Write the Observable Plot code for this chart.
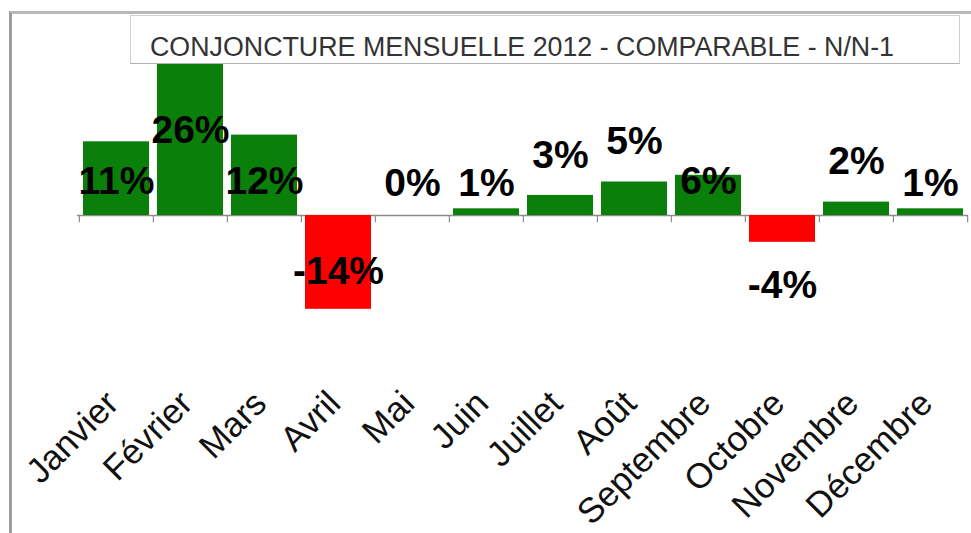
<!DOCTYPE html>
<html>
<head>
<meta charset="utf-8">
<script src="https://cdn.jsdelivr.net/npm/d3@7"></script>
<script src="https://cdn.jsdelivr.net/npm/@observablehq/plot@0.6"></script>
<style>
  html, body { margin: 0; padding: 0; background: #fff; }
  #wrap { position: relative; width: 971px; height: 533px; overflow: hidden; font-family: "Liberation Sans", Arial, sans-serif; }
  #frame { position: absolute; left: 9px; top: 11px; width: 970px; height: 530px;
           border-left: 3px solid #9c9c9c; border-top: 3px solid #b8b8b8; }
  #chart { position: absolute; left: 0; top: 0; }
  #title { position: absolute; left: 130px; top: 15px; width: 830px; height: 49px; box-sizing: border-box;
           background: #fff; border: 1px solid #d0d0d0; border-bottom: 1px solid #b0b0b0;
           color: #333; font-size: 26.8px; line-height: 26px; padding: 18px 0 0 19px; white-space: nowrap; }
</style>
</head>
<body>
<div id="wrap">
  <div id="frame"></div>
  <div id="chart"></div>
  <div id="title">CONJONCTURE MENSUELLE 2012 - COMPARABLE - N/N-1</div>
</div>
<script>
const months = ["Janvier","Février","Mars","Avril","Mai","Juin","Juillet","Août","Septembre","Octobre","Novembre","Décembre"];
const values = [11, 26, 12, -14, 0, 1, 3, 5, 6, -4, 2, 1];

const data = months.map((m, i) => ({month: m, value: values[i]}));

// label placement rule (mimics the manually placed Excel labels)
function labelY(v) {
  if (v >= 20) return v / 2 - 0.3;
  if (v >= 6) return 5;
  if (v >= 2) return v + 6;
  if (v >= 0) return 4.8;
  return v <= -10 ? v * 0.6 : v - 6.4;
}

const W = 971, H = 533, ML = 77, MR = 3;
const step = (W - ML - MR) / months.length;

const chart = Plot.plot({
  width: W,
  height: H,
  marginLeft: ML,
  marginRight: MR,
  marginTop: 14,
  marginBottom: 184,
  style: {fontFamily: "'Liberation Sans', Arial, sans-serif", background: "transparent", overflow: "visible"},
  x: {domain: months, paddingInner: 0.11, paddingOuter: 0.055, axis: null},
  y: {domain: [-20, 30], axis: null},
  marks: [
    Plot.ruleY([0], {stroke: "#8c8c8c", strokeWidth: 1.5}),
    Plot.ruleX(months, {x: d => d, dx: -step / 2, y1: 0, y2: -1.1, stroke: "#8c8c8c", strokeWidth: 1.2}),
    Plot.ruleX([months[months.length - 1]], {x: d => d, dx: step / 2, y1: 0, y2: -1.1, stroke: "#8c8c8c", strokeWidth: 1.2}),
    Plot.barY(data, {x: "month", y: "value", fill: d => d.value < 0 ? "#ff0000" : "#0a7f0a"}),
    Plot.text(data, {x: "month", y: d => labelY(d.value), text: d => `${d.value}%`,
      fontSize: 39, fontWeight: "bold", fill: "#000", lineAnchor: "middle"}),
    Plot.text(months, {x: d => d, text: d => d, frameAnchor: "bottom", rotate: -45,
      textAnchor: "end", lineAnchor: "bottom", dx: 4, dy: 56, fontSize: 35, fill: "#111"})
  ]
});
document.getElementById("chart").appendChild(chart);
</script>
</body>
</html>
